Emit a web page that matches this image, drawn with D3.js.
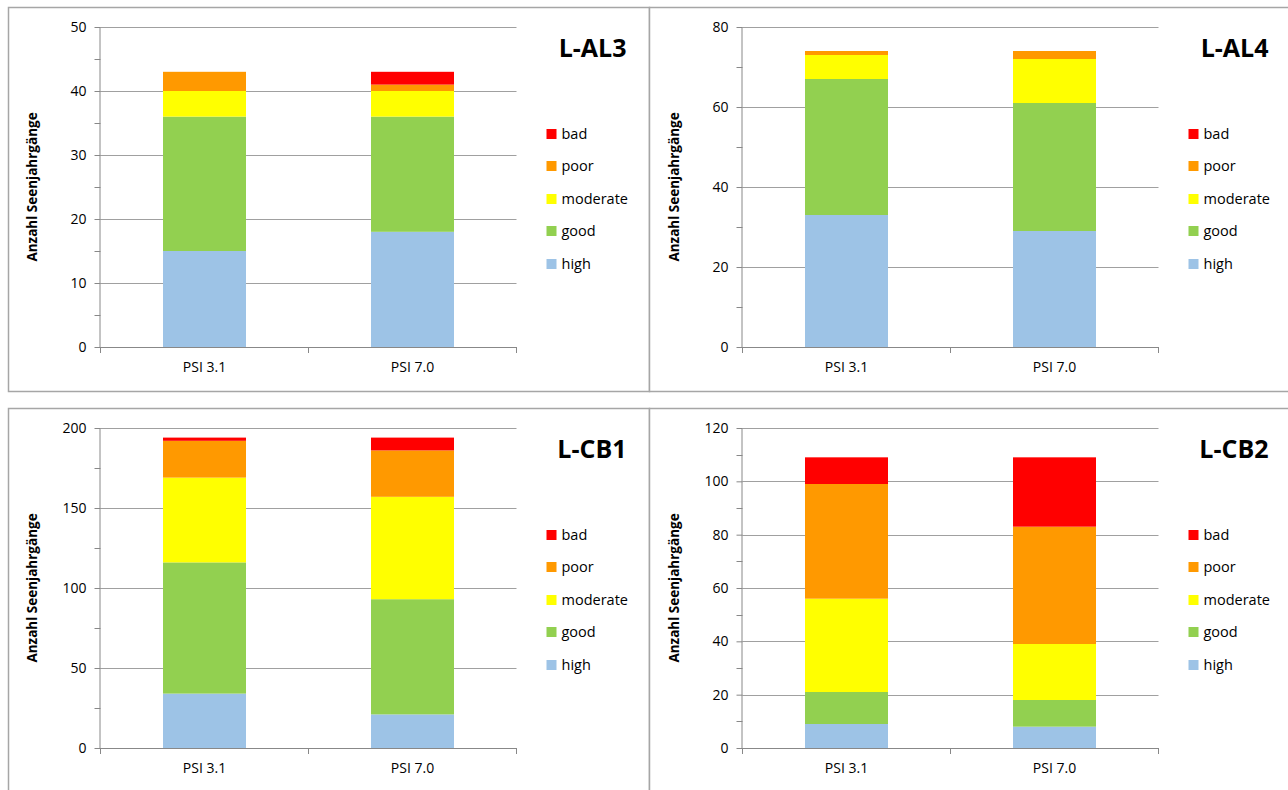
<!DOCTYPE html>
<html><head><meta charset="utf-8">
<script src="https://cdn.jsdelivr.net/npm/d3@7"></script>
<style>body{margin:0;background:#fff;font-family:"Open Sans","Noto Sans",sans-serif}</style>
</head><body><svg id="c" width="1288" height="790"></svg>
<script>
const categories = ["PSI 3.1", "PSI 7.0"];
const classes = ["high", "good", "moderate", "poor", "bad"];
const colors = ["#9dc3e6", "#92d050", "#ffff00", "#ff9900", "#ff0000"];
const titles = ["L-AL3", "L-AL4", "L-CB1", "L-CB2"];
const yMax = [50, 80, 200, 120];
const yStep = [10, 20, 50, 20];
// values per panel: [category][class] high, good, moderate, poor, bad
const valuesAL3 = [[15, 21, 4, 3, 0], [18, 18, 4, 1, 2]];
const valuesAL4 = [[33, 34, 6, 1, 0], [29, 32, 11, 2, 0]];
const valuesCB1 = [[34, 82, 53, 23, 2], [21, 72, 64, 29, 8]];
const valuesCB2 = [[9, 12, 35, 43, 10], [8, 10, 21, 44, 26]];
const yLabel = "Anzahl Seenjahrgänge";

const panels = [valuesAL3, valuesAL4, valuesCB1, valuesCB2];
const svg = d3.select("#c");
const boxes = [
  {x:8, y:7, w:641, h:384},
  {x:649, y:7, w:645, h:384},
  {x:8, y:408, w:641, h:390},
  {x:649, y:408, w:645, h:390}
];
const plots = [
  {x0:100.5, x1:516.5, y0:347, y1:27},
  {x0:742.5, x1:1158.5, y0:347, y1:27},
  {x0:100.5, x1:516.5, y0:748, y1:428},
  {x0:742.5, x1:1158.5, y0:748, y1:428}
];
panels.forEach((vals, i) => {
  const b = boxes[i], p = plots[i];
  svg.append("rect").attr("x", b.x+0.5).attr("y", b.y+0.5).attr("width", b.w).attr("height", b.h)
    .attr("fill", "#fff").attr("stroke", "#a6a6a6").attr("stroke-width", 1.5);
  const g = svg.append("g");
  const x = d3.scaleBand().domain(categories).range([p.x0, p.x1]).paddingInner(0.601).paddingOuter(0.3005);
  const y = d3.scaleLinear().domain([0, yMax[i]]).range([p.y0, p.y1]);
  const major = d3.range(0, yMax[i] + 0.001, yStep[i]);
  const minor = d3.range(yStep[i]/2, yMax[i], yStep[i]);
  // gridlines
  g.selectAll(".grid").data(major).enter().append("line")
    .attr("x1", p.x0).attr("x2", p.x1).attr("y1", d => Math.round(y(d))+0.5).attr("y2", d => Math.round(y(d))+0.5)
    .attr("stroke", "#a0a0a0").attr("stroke-width", 1);
  // bars
  const stack = d3.stack().keys(d3.range(classes.length))(vals);
  stack.forEach((layer, k) => {
    g.selectAll(null).data(layer).enter().append("rect")
      .attr("x", (d, j) => x(categories[j])).attr("width", x.bandwidth())
      .attr("y", d => y(d[1])).attr("height", d => y(d[0]) - y(d[1]))
      .attr("fill", colors[k]);
  });
  // y axis
  const ya = d3.axisLeft(y).tickValues(major).tickSize(6).tickPadding(8).tickFormat(d3.format("d"));
  const ag = g.append("g").attr("transform", `translate(${p.x0},0)`).call(ya);
  ag.select(".domain").attr("stroke", "#888").attr("d", `M-0.5,${p.y0}V${p.y1}`);
  ag.selectAll(".tick line").attr("stroke", "#888");
  ag.selectAll(".tick text").attr("font-size", 14).attr("fill", "#000").attr("font-family", "Open Sans");
  g.selectAll(".minor").data(minor).enter().append("line")
    .attr("x1", p.x0-6).attr("x2", p.x0).attr("y1", d => Math.round(y(d))+0.5).attr("y2", d => Math.round(y(d))+0.5)
    .attr("stroke", "#888");
  // x axis
  g.append("line").attr("x1", p.x0).attr("x2", p.x1).attr("y1", p.y0+0.5).attr("y2", p.y0+0.5).attr("stroke", "#888");
  [p.x0, (p.x0+p.x1)/2, p.x1].forEach(t => g.append("line").attr("x1", t).attr("x2", t)
    .attr("y1", p.y0).attr("y2", p.y0+6).attr("stroke", "#888"));
  categories.forEach(c => g.append("text").attr("x", x(c) + x.bandwidth()/2).attr("y", p.y0+25)
    .attr("text-anchor", "middle").attr("font-size", 14).text(c));
  // y label
  g.append("text").attr("transform", `translate(${p.x0-64},${(p.y0+p.y1)/2}) rotate(-90)`)
    .attr("text-anchor", "middle").attr("font-size", 13.5).attr("font-weight", "bold").text(yLabel);
  // title
  g.append("text").attr("x", p.x1+110).attr("y", p.y1+30).attr("text-anchor", "end")
    .attr("font-size", 25).attr("font-weight", "bold").attr("font-family", "Open Sans").text(titles[i]);
  // legend
  const ly = [ -53, -21, 12, 44, 77 ];
  const lx = p.x1 + 30;
  const cy = (p.y0+p.y1)/2;
  classes.slice().reverse().forEach((cl, k) => {
    const yy = cy + ly[k];
    g.append("rect").attr("x", lx).attr("y", yy - 5).attr("width", 10).attr("height", 10)
      .attr("fill", colors[classes.length-1-k]);
    g.append("text").attr("x", lx+15).attr("y", yy+5).attr("font-size", 14.5).text(cl);
  });
});
</script></body></html>
